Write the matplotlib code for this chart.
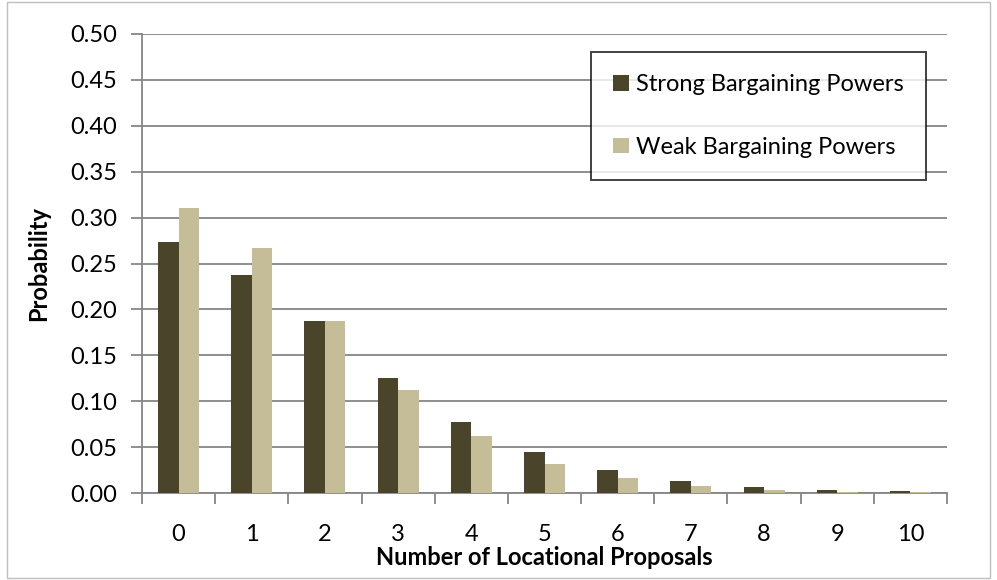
import matplotlib
matplotlib.use("Agg")
import matplotlib.pyplot as plt
from matplotlib.patches import Rectangle
import numpy as np

plt.rcParams['font.family'] = ['Lato', 'DejaVu Sans']

categories = ['0', '1', '2', '3', '4', '5', '6', '7', '8', '9', '10']
strong = [0.273, 0.238, 0.187, 0.125, 0.077, 0.045, 0.025, 0.0135, 0.007, 0.0036, 0.0018]
weak = [0.310, 0.267, 0.187, 0.112, 0.062, 0.032, 0.016, 0.008, 0.0035, 0.0016, 0.0007]
series_names = ['Strong Bargaining Powers', 'Weak Bargaining Powers']
colors = ['#4A452A', '#C4BD97']
yticks = [0.00, 0.05, 0.10, 0.15, 0.20, 0.25, 0.30, 0.35, 0.40, 0.45, 0.50]

FS = 17
W, H = 997, 580
fig = plt.figure(figsize=(W / 100, H / 100), dpi=100)
L, R, T, B = 142, 947, 34, 493
ax = fig.add_axes([L / W, 1 - B / H, (R - L) / W, (B - T) / H])

x = np.arange(len(categories))
bw = 0.28
ax.bar(x - bw / 2, strong, width=bw, color=colors[0], label=series_names[0], zorder=3)
ax.bar(x + bw / 2, weak, width=bw, color=colors[1], label=series_names[1], zorder=3)

ax.set_xlim(-0.5, len(categories) - 0.5)
ax.set_ylim(0, 0.5)
ax.set_yticks(yticks)
ax.set_yticklabels([f'{v:.2f}' for v in yticks], fontsize=FS)
ax.yaxis.grid(True, color='#868686', linewidth=1.3, zorder=0)
ax.set_axisbelow(True)

ax.set_xticks(np.arange(-0.5, len(categories), 1.0))
ax.set_xticklabels([])
ax.set_xticks(x, minor=True)
ax.set_xticklabels(categories, minor=True, fontsize=FS)
ax.tick_params(axis='x', which='minor', length=0, pad=22)
ax.tick_params(axis='x', which='major', length=8, width=1.3, color='#868686', direction='out')
ax.tick_params(axis='y', length=8, width=1.3, color='#868686', direction='out', pad=10)

for s in ['top', 'right']:
    ax.spines[s].set_visible(False)
for s in ['left', 'bottom']:
    ax.spines[s].set_color('#868686')
    ax.spines[s].set_linewidth(1.3)

ax.set_xlabel('Number of Locational Proposals', fontsize=FS, fontweight='bold', labelpad=1)
ax.set_ylabel('Probability', fontsize=FS, fontweight='bold', labelpad=14)

leg = fig.legend(loc='upper left', bbox_to_anchor=(591 / W, 1 - 52 / H),
                 fontsize=FS, frameon=True, fancybox=False, edgecolor='black',
                 handlelength=0.65, handleheight=0.65, handletextpad=0.3,
                 labelspacing=1.75, borderpad=0.95, borderaxespad=0)
leg.get_frame().set_linewidth(1.3)

fig.patches.append(Rectangle((7 / W, 2 / H), (990 - 7) / W, (578 - 2) / H,
                             transform=fig.transFigure, fill=False,
                             edgecolor='#BFBFBF', linewidth=1.0))

fig.savefig('out.png', dpi=100)
